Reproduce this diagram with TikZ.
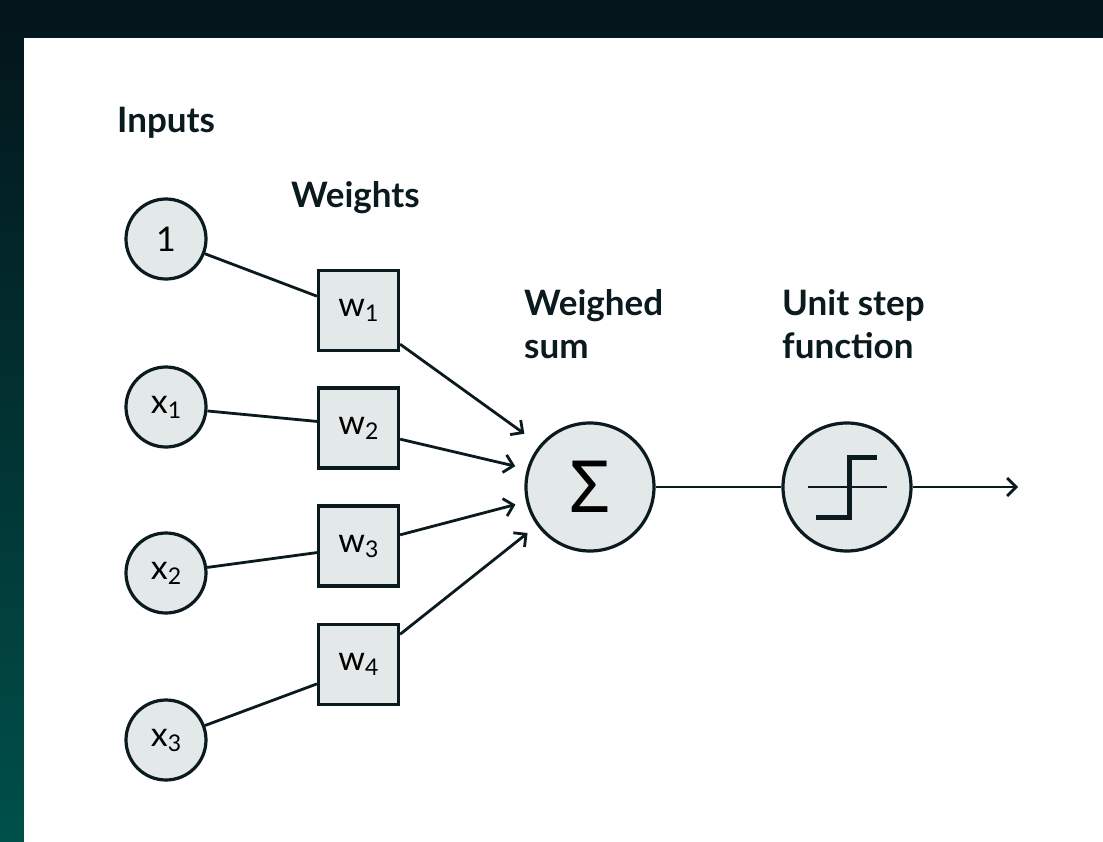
\documentclass[tikz,border=0pt]{standalone}
\usepackage{fontspec}
\setmainfont{Lato}
\newfontfamily\sigmafont{Noto Sans}
\usetikzlibrary{arrows.meta,calc}
\definecolor{ink}{HTML}{0B1A1E}
\definecolor{nodefill}{HTML}{E3E8E8}
\definecolor{bgtop}{HTML}{03141A}
\definecolor{bgbot}{HTML}{00504A}
\newcommand\lowidx[1]{\raisebox{-5pt}{\fontsize{23}{23}\selectfont #1}}
\begin{document}
\begin{tikzpicture}[x=1pt,y=-1pt,
  inp/.style={circle, draw=ink, fill=nodefill, line width=3.2pt, minimum size=80pt, inner sep=0pt, font=\fontsize{34}{34}\selectfont},
  wbox/.style={rectangle, draw=ink, fill=nodefill, line width=3.2pt, minimum size=80pt, inner sep=0pt, font=\fontsize{34}{34}\selectfont},
  bigc/.style={circle, draw=ink, fill=nodefill, line width=3.2pt, minimum size=128pt, inner sep=0pt},
  conn/.style={draw=ink, line width=2.8pt},
  arr/.style={conn, -{Straight Barb[length=9pt,width=18pt]}},
  head/.style={font=\bfseries\fontsize{35}{35}\selectfont, anchor=base west, inner sep=0pt, text=ink}
]
\useasboundingbox (0,0) rectangle (1103,841);
\shade[top color=bgtop, bottom color=bgbot] (0,0) rectangle (1103,841);
\fill[white] (24,38) rectangle (1110,850);

% headings
\node[head] (hinp) at (117,132) {Inputs};
\node[head] (hw) at (291,207) {Weights};
\node[head] (hs1) at (524,315) {Weighed};
\node[head] (hs2) at (524,358) {sum};
\node[head] (hu1) at (782,315) {Unit step};
\node[head] (hu2) at (782,358) {function};

% inputs
\node[inp] (c0) at (166,239) {1};
\node[inp] (c1) at (166,407) {x\lowidx{1}};
\node[inp] (c2) at (166,573) {x\lowidx{2}};
\node[inp] (c3) at (166,740) {x\lowidx{3}};

% weights
\node[wbox] (w1) at (358.5,310.5) {w\lowidx{1}};
\node[wbox] (w2) at (358.5,428) {w\lowidx{2}};
\node[wbox] (w3) at (358.5,546) {w\lowidx{3}};
\node[wbox] (w4) at (358.5,664.5) {w\lowidx{4}};

% sum and step
\node[bigc] (sum) at (590,487) {\sigmafont\fontsize{72}{72}\selectfont Σ};
\node[bigc] (stp) at (847,487) {};
\coordinate (out) at (1018,487);

% input connectors
\draw[conn] (c0) -- (w1.161);
\draw[conn] (c1) -- (w2.171);
\draw[conn] (c2) -- (w3.189);
\draw[conn] (c3) -- (w4.205);

% weight arrows
\draw[arr, shorten >=19pt] (w1.-39.5) -- (sum.140.6);
\draw[arr, shorten >=12pt] (w2.-15.4) -- (sum.164.3);
\draw[arr, shorten >=11pt] (w3.15.4) -- (sum.193.8);
\draw[arr, shorten >=12pt] (w4.36) -- (sum.216.7);

% sum to step, output
\draw[conn] (sum) -- (stp);
\draw[arr] (stp) -- (out);

% step symbol
\draw[ink, line width=1.6pt] ([shift={(-39,0)}]stp.center) -- ([shift={(40,0)}]stp.center);
\draw[ink, line width=5pt, miter limit=10] ([shift={(-31,30)}]stp.center) -- ([shift={(2,30)}]stp.center) -- ([shift={(2,-30)}]stp.center) -- ([shift={(30,-30)}]stp.center);
\end{tikzpicture}
\end{document}
